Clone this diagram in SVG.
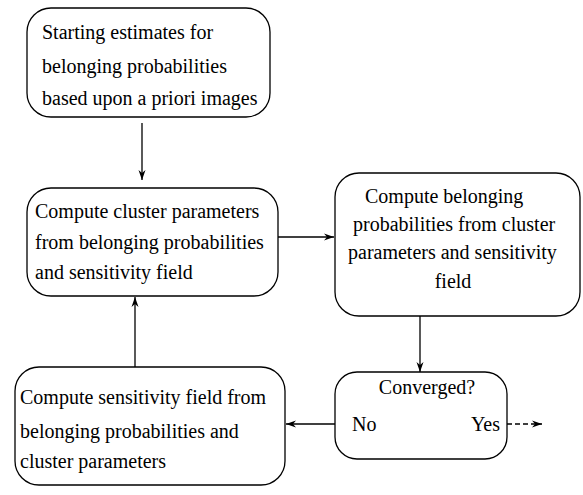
<svg xmlns="http://www.w3.org/2000/svg" width="583" height="495" viewBox="0 0 583 495">
<style>
.box{fill:#fff;stroke:#000;stroke-width:1.3}
.c{stroke:#000;stroke-width:1.3;fill:none}
</style>
<defs>
<marker id="ah" viewBox="0 0 10 10" refX="10" refY="5" markerWidth="10" markerHeight="10" markerUnits="userSpaceOnUse" orient="auto">
<path d="M0,1.5 L10,5 L0,8.5 L3,5 Z" fill="#000"/>
</marker>
</defs>
<rect width="583" height="495" fill="#fff"/>
<g id="connectors">
<line class="c" x1="142" y1="123" x2="142" y2="180" marker-end="url(#ah)"/>
<line class="c" x1="278" y1="237" x2="334" y2="237" marker-end="url(#ah)"/>
<line class="c" x1="420" y1="316" x2="420" y2="372" marker-end="url(#ah)"/>
<line class="c" x1="335" y1="424" x2="286" y2="424" marker-end="url(#ah)"/>
<line class="c" x1="135" y1="367" x2="135" y2="297" marker-end="url(#ah)"/>
<line class="c" x1="507" y1="424" x2="542" y2="424" stroke-dasharray="5,3" marker-end="url(#ah)"/>
</g>
<g font-family="Liberation Serif, serif" font-size="20" fill="#000">
<g id="start">
<rect class="box" x="27" y="8" width="243" height="109" rx="24"/>
<text x="42" y="39">Starting estimates for</text>
<text x="42" y="73">belonging probabilities</text>
<text x="42" y="105">based upon a priori images</text>
</g>
<g id="cluster">
<rect class="box" x="27" y="188" width="251" height="108" rx="24"/>
<text x="35" y="218">Compute cluster parameters</text>
<text x="35" y="249">from belonging probabilities</text>
<text x="35" y="279">and sensitivity field</text>
</g>
<g id="belonging">
<rect class="box" x="335" y="173" width="245" height="143" rx="24"/>
<text x="365" y="203">Compute belonging</text>
<text x="353" y="231">probabilities from cluster</text>
<text x="348" y="259">parameters and sensitivity</text>
<text x="453" y="288" text-anchor="middle">field</text>
</g>
<g id="converged">
<rect class="box" x="335" y="372" width="172" height="87" rx="22"/>
<text x="427" y="394" text-anchor="middle">Converged?</text>
<text x="352" y="431">No</text>
<text x="500" y="431" text-anchor="end">Yes</text>
</g>
<g id="sensitivity">
<rect class="box" x="15" y="367" width="270" height="118" rx="24"/>
<text x="20" y="404">Compute sensitivity field from</text>
<text x="20" y="438">belonging probabilities and</text>
<text x="20" y="468">cluster parameters</text>
</g>
</g>
</svg>
